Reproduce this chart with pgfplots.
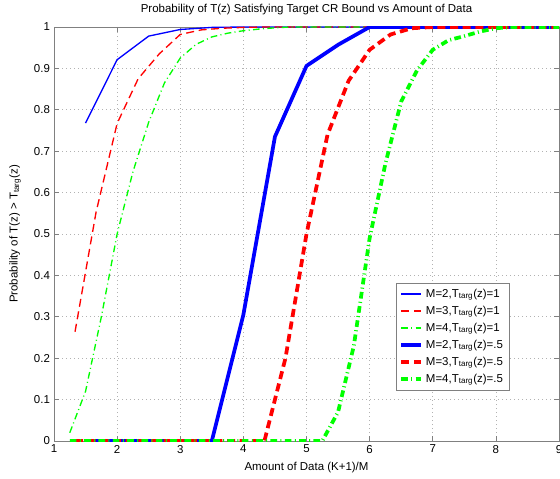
\documentclass[border=0pt]{standalone}
\usepackage{pgfplots}
\pgfplotsset{compat=1.18}
\usepackage{fontspec}
\setmainfont{Liberation Sans}

\definecolor{mblue}{rgb}{0,0,1}
\definecolor{mred}{rgb}{1,0,0}
\definecolor{mgreen}{rgb}{0,1,0}
\definecolor{frame}{gray}{0.5}

\newcommand{\Tt}{T\textsubscript{targ}(z)}
\newcommand{\fs}{\fontsize{8.6}{10.3}\selectfont}

\begin{document}
\fs
\begin{tikzpicture}
\useasboundingbox (0,0) rectangle (420pt,358.5pt);
\begin{axis}[
  at={(40.5pt,27.75pt)}, anchor=south west,
  scale only axis, width=378.75pt, height=310.5pt,
  xmin=1, xmax=9, ymin=0, ymax=1,
  xtick={1,2,3,4,5,6,7,8,9},
  ytick={0,0.1,0.2,0.3,0.4,0.5,0.6,0.7,0.8,0.9,1},
  yticklabel style={/pgf/number format/fixed},
  /pgf/number format/assume math mode=true,
  ticklabel style={font=\fs},
  tick align=inside, major tick length=3.75pt,
  tick style={frame, line width=0.5pt},
  axis line style={frame, line width=0.6pt},
  grid=major,
  major grid style={frame!60, line width=0.5pt, dash pattern=on 0.75pt off 2.25pt},
  every axis title shift=0pt,
  title={Probability of T(z) Satisfying Target CR Bound vs Amount of Data},
  title style={at={(axis description cs:0.5,1.041)}, anchor=center, font=\fs},
  xlabel={Amount of Data (K+1)/M},
  xlabel style={at={(axis description cs:0.5,-0.0652)}, anchor=center, font=\fs},
  ylabel={Probability of T(z) > \Tt},
  ylabel style={at={(axis description cs:-0.0772,0.5)}, anchor=center, font=\fs},
  legend style={at={(axis description cs:0.677,0.382)}, anchor=north west,
    draw=frame, font=\fs, inner xsep=2.5pt, inner ysep=2.5pt,
    row sep=1.2pt, cells={anchor=west}},
  legend image code/.code={\draw[#1] (0cm,0cm) -- (0.53cm,0cm);},
]
% thin curves: target T(z)=1
\addplot[mblue, line width=1pt] coordinates {
 (1.5,0.768) (2,0.921) (2.5,0.978) (3,0.994) (3.5,0.999) (4,1) (4.5,1) (5,1)
 (5.5,1) (6,1) (6.5,1) (7,1) (7.5,1) (8,1) (8.5,1) (9,1)};
\addlegendentry{M=2,\Tt=1}
\addplot[mred, line width=1pt, dash pattern=on 6pt off 3.5pt] coordinates {
 (1.3333,0.264) (1.6667,0.553) (2,0.767) (2.3333,0.875) (2.6667,0.935) (3,0.982)
 (3.3333,0.993) (3.6667,0.997) (4,0.999) (4.3333,1) (4.6667,1) (5,1) (5.3333,1)
 (5.6667,1) (6,1) (6.3333,1) (6.6667,1) (7,1) (7.3333,1) (7.6667,1) (8,1)
 (8.3333,1) (8.6667,1) (9,1)};
\addlegendentry{M=3,\Tt=1}
\addplot[mgreen, line width=1pt, dash pattern=on 5pt off 2.5pt on 0.75pt off 2.5pt] coordinates {
 (1.25,0.02) (1.5,0.12) (1.75,0.30) (2,0.50) (2.25,0.65) (2.5,0.77) (2.75,0.865)
 (3,0.925) (3.25,0.958) (3.5,0.976) (3.75,0.985) (4,0.991) (4.25,0.995) (4.5,0.998)
 (4.75,1) (5,1) (5.25,1) (5.5,1) (5.75,1) (6,1) (6.25,1) (6.5,1) (6.75,1) (7,1)
 (7.25,1) (7.5,1) (7.75,1) (8,1) (8.25,1) (8.5,1) (8.75,1) (9,1)};
\addlegendentry{M=4,\Tt=1}
% thick curves: target T(z)=.5
\addplot[mblue, line width=2.8pt] coordinates {
 (1.5,0) (2,0) (2.5,0) (3,0) (3.5,0) (4,0.305) (4.5,0.735) (5,0.906) (5.5,0.957)
 (6,1) (6.5,1) (7,1) (7.5,1) (8,1) (8.5,1) (9,1)};
\addlegendentry{M=2,\Tt=.5}
\addplot[mred, line width=2.8pt, dash pattern=on 6pt off 3.5pt] coordinates {
 (1.3333,0) (1.6667,0) (2,0) (2.3333,0) (2.6667,0) (3,0) (3.3333,0) (3.6667,0)
 (4,0) (4.3333,0) (4.6667,0.20) (5,0.50) (5.3333,0.74) (5.6667,0.87) (6,0.945)
 (6.3333,0.982) (6.6667,0.997) (7,1) (7.3333,1) (7.6667,1) (8,1) (8.3333,1)
 (8.6667,1) (9,1)};
\addlegendentry{M=3,\Tt=.5}
\addplot[mgreen, line width=2.8pt, dash pattern=on 5pt off 2.5pt on 0.75pt off 2.5pt] coordinates {
 (1.25,0) (1.5,0) (1.75,0) (2,0) (2.25,0) (2.5,0) (2.75,0) (3,0) (3.25,0) (3.5,0)
 (3.75,0) (4,0) (4.25,0) (4.5,0) (4.75,0) (5,0) (5.25,0) (5.5,0.07) (5.75,0.23)
 (6,0.49) (6.25,0.67) (6.5,0.82) (6.75,0.895) (7,0.945) (7.25,0.968) (7.5,0.978)
 (7.75,0.989) (8,0.997) (8.25,1) (8.5,1) (8.75,1) (9,1)};
\addlegendentry{M=4,\Tt=.5}
\end{axis}
\end{tikzpicture}
\end{document}
